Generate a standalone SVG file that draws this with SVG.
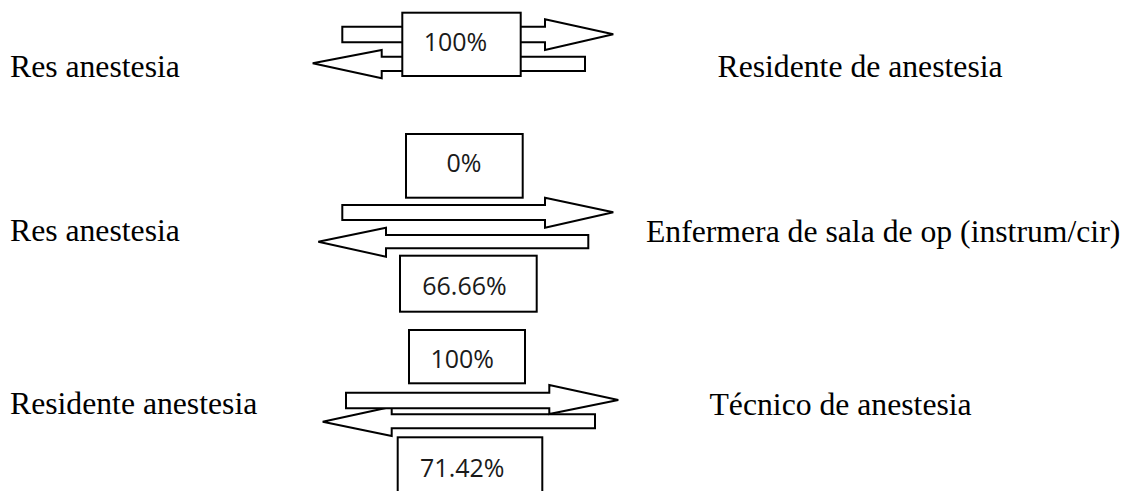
<svg xmlns="http://www.w3.org/2000/svg" width="1131" height="491" viewBox="0 0 1131 491">
<style>
.lbl{font-family:"Liberation Serif","Times New Roman",serif;font-size:31.7px;fill:#000}
.pct{font-family:"Open Sans","Noto Sans",sans-serif;font-size:25px;fill:#1a1a1a;text-anchor:middle}
.box{fill:#fff;stroke:#000;stroke-width:2}
.arr{fill:#fff;stroke:#000;stroke-width:2;stroke-linejoin:miter}
</style>
<rect width="1131" height="491" fill="#fff"/>
<g id="connectors">
<polygon class="arr" points="342.3,26.7 545,26.7 545,19.3 613.3,34.3 545,50 545,42.3 342.3,42.3"/>
<polygon class="arr" points="585,56.7 381.7,56.7 381.7,50 312.7,63.3 381.7,78.3 381.7,71 585,71"/>
<polygon class="arr" points="342.3,205 545,205 545,197.7 613.3,212.3 545,227.7 545,220 342.3,220"/>
<polygon class="arr" points="588.3,235 386,235 386,227.7 318.3,241.7 386,256.7 386,248.3 588.3,248.3"/>
<polygon class="arr" points="595,414.3 391.7,414.3 391.7,406.7 322.7,421.7 391.7,436 391.7,428.3 595,428.3"/>
<polygon class="arr" points="346,392.7 549.3,392.7 549.3,385 618.3,400 549.3,414 549.3,408.3 346,408.3"/>
</g>
<g id="row1-left"><text class="lbl" x="10" y="76.7">Res anestesia</text></g>
<g id="row1-right"><text class="lbl" x="717.5" y="76.7">Residente de anestesia</text></g>
<g id="row1-box"><rect class="box" x="402.3" y="12.7" width="118.4" height="63.3"/><text class="pct" x="455.5" y="51">100%</text></g>
<g id="row2-left"><text class="lbl" x="10" y="240.7">Res anestesia</text></g>
<g id="row2-right"><text class="lbl" x="646" y="241.5">Enfermera de sala de op (instrum/cir)</text></g>
<g id="row2-box-top"><rect class="box" x="406" y="134" width="116.7" height="63.7"/><text class="pct" x="464" y="171.7">0%</text></g>
<g id="row2-box-bottom"><rect class="box" x="400" y="255.7" width="136.7" height="56"/><text class="pct" x="464.5" y="295">66.66%</text></g>
<g id="row3-left"><text class="lbl" x="10" y="414.3">Residente anestesia</text></g>
<g id="row3-right"><text class="lbl" x="709.5" y="415">Técnico de anestesia</text></g>
<g id="row3-box-top"><rect class="box" x="409" y="330" width="116" height="53.3"/><text class="pct" x="462.2" y="368.3">100%</text></g>
<g id="row3-box-bottom"><rect class="box" x="397.7" y="437.3" width="144.6" height="70"/><text class="pct" x="462.3" y="476.7">71.42%</text></g>
</svg>
